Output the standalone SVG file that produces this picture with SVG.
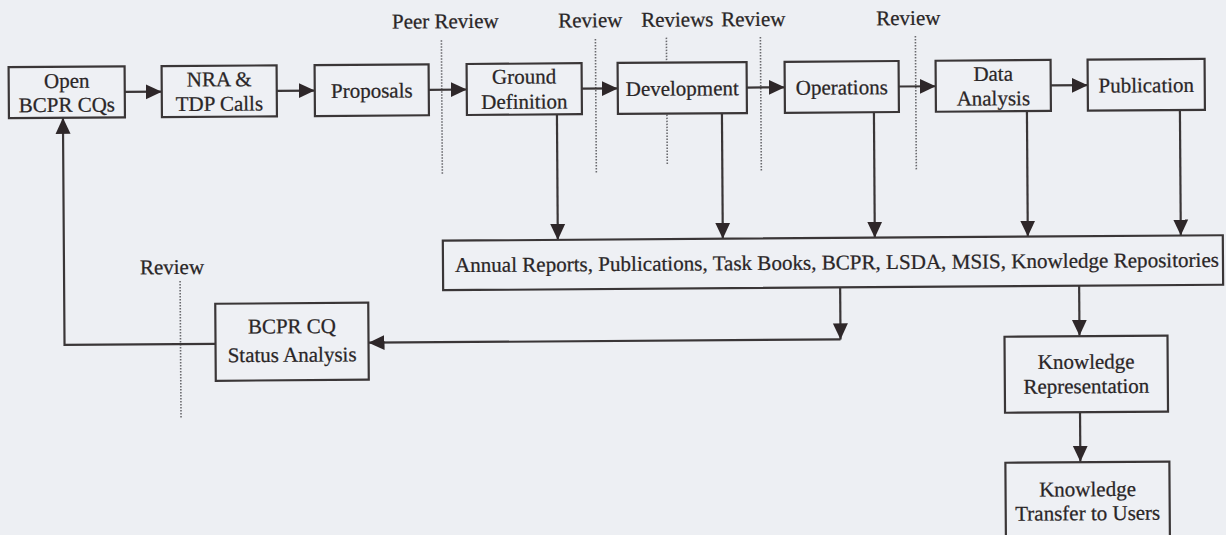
<svg xmlns="http://www.w3.org/2000/svg" width="1226" height="535" viewBox="0 0 1226 535">
<defs>
<style>
.box{fill:#eef0f4;stroke:#3a3637;stroke-width:2.2}
.t{font-family:"Liberation Serif","Times New Roman",serif;font-size:21px;fill:#2a2627;stroke:#2a2627;stroke-width:0.25;text-anchor:middle}
.c{fill:none;stroke:#3a3637;stroke-width:2.2}
.d{fill:none;stroke:#6a6a6e;stroke-width:1.6;stroke-dasharray:1.5 1.5}
</style>
<marker id="ah" markerUnits="userSpaceOnUse" markerWidth="17" markerHeight="17" viewBox="0 0 17 17" refX="16" refY="8.5" orient="auto">
<path d="M0,1 L16,8.5 L0,16 z" fill="#2e2729"/>
</marker>
</defs>
<rect x="0" y="0" width="1226" height="535" fill="#edeff3"/>
<g transform="rotate(-0.4 613 267)">
<g id="reviews">
<line class="d" x1="443" y1="39" x2="443" y2="174"/>
<line class="d" x1="597" y1="39" x2="597" y2="174"/>
<line class="d" x1="668" y1="38" x2="668" y2="62"/>
<line class="d" x1="668" y1="115" x2="668" y2="166"/>
<line class="d" x1="762" y1="38" x2="762" y2="173"/>
<line class="d" x1="917" y1="38" x2="917" y2="173"/>
<line class="d" x1="180" y1="278" x2="180" y2="416"/>
<text class="t" x="447" y="27">Peer Review</text>
<text class="t" x="592" y="27">Review</text>
<text class="t" x="679" y="27">Reviews</text>
<text class="t" x="755" y="27">Review</text>
<text class="t" x="910" y="27">Review</text>
<text class="t" x="172" y="271">Review</text>
</g>
<g id="connectors">
<path class="c" d="M126,88.5 H163" marker-end="url(#ah)"/>
<path class="c" d="M278,88.5 H316" marker-end="url(#ah)"/>
<path class="c" d="M430,88.5 H468" marker-end="url(#ah)"/>
<path class="c" d="M583,88.5 H619" marker-end="url(#ah)"/>
<path class="c" d="M748,88.5 H786" marker-end="url(#ah)"/>
<path class="c" d="M900,88.5 H937" marker-end="url(#ah)"/>
<path class="c" d="M1052,88.5 H1089" marker-end="url(#ah)"/>
<path class="c" d="M558,114 V239.5" marker-end="url(#ah)"/>
<path class="c" d="M723,114 V239.5" marker-end="url(#ah)"/>
<path class="c" d="M875,114 V239.5" marker-end="url(#ah)"/>
<path class="c" d="M1028,114 V239.5" marker-end="url(#ah)"/>
<path class="c" d="M1181,114 V239.5" marker-end="url(#ah)"/>
<path class="c" d="M840,289 V341" marker-end="url(#ah)"/>
<path class="c" d="M840,341 H368" marker-end="url(#ah)"/>
<path class="c" d="M215,341 H64 V114" marker-end="url(#ah)"/>
<path class="c" d="M1079,289 V339" marker-end="url(#ah)"/>
<path class="c" d="M1079,415 V465" marker-end="url(#ah)"/>
</g>
<g id="open-bcpr-cqs">
<rect class="box" x="10" y="63" width="116" height="51"/>
<text class="t" x="68" y="84">Open</text>
<text class="t" x="68" y="108">BCPR CQs</text>
</g>
<g id="nra-tdp-calls">
<rect class="box" x="163" y="63" width="115" height="51"/>
<text class="t" x="220.5" y="83.5">NRA &amp;</text>
<text class="t" x="220.5" y="108">TDP Calls</text>
</g>
<g id="proposals">
<rect class="box" x="316" y="63" width="114" height="51"/>
<text class="t" x="373" y="96">Proposals</text>
</g>
<g id="ground-definition">
<rect class="box" x="468" y="63" width="115" height="51"/>
<text class="t" x="525.5" y="83">Ground</text>
<text class="t" x="525.5" y="108">Definition</text>
</g>
<g id="development">
<rect class="box" x="619" y="63" width="129" height="51"/>
<text class="t" x="683.5" y="96">Development</text>
</g>
<g id="operations">
<rect class="box" x="786" y="63" width="114" height="51"/>
<text class="t" x="843" y="96">Operations</text>
</g>
<g id="data-analysis">
<rect class="box" x="937" y="63" width="115" height="51"/>
<text class="t" x="994.5" y="83.5">Data</text>
<text class="t" x="994.5" y="108">Analysis</text>
</g>
<g id="publication">
<rect class="box" x="1089" y="63" width="117" height="51"/>
<text class="t" x="1147.5" y="96">Publication</text>
</g>
<g id="repositories">
<rect class="box" x="443" y="239.5" width="780" height="49.5"/>
<text class="t" x="837" y="271" textLength="764" lengthAdjust="spacingAndGlyphs">Annual Reports, Publications, Task Books, BCPR, LSDA, MSIS, Knowledge Repositories</text>
</g>
<g id="bcpr-cq-status-analysis">
<rect class="box" x="215" y="301" width="153" height="77"/>
<text class="t" x="291.5" y="331">BCPR CQ</text>
<text class="t" x="291.5" y="359.5">Status Analysis</text>
</g>
<g id="knowledge-representation">
<rect class="box" x="1004" y="339.5" width="163" height="76"/>
<text class="t" x="1085.5" y="372">Knowledge</text>
<text class="t" x="1085.5" y="396.5">Representation</text>
</g>
<g id="knowledge-transfer">
<rect class="box" x="1004" y="465.5" width="164" height="80"/>
<text class="t" x="1086" y="499.5">Knowledge</text>
<text class="t" x="1086" y="523.5">Transfer to Users</text>
</g>
</g>
</svg>
